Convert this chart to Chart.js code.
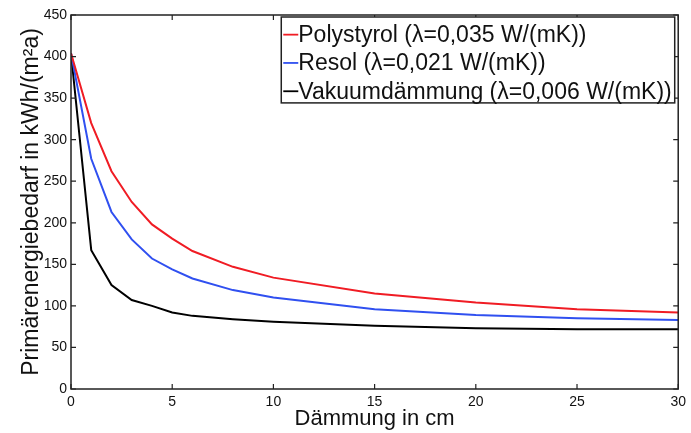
<!DOCTYPE html>
<html>
<head>
<meta charset="utf-8">
<script src="https://cdn.jsdelivr.net/npm/chart.js@4"></script>
<style>
  html, body { margin: 0; padding: 0; background: #fff; }
  #wrap { width: 691px; height: 433px; position: relative; }
</style>
</head>
<body>
<div id="wrap"><canvas id="c" width="691" height="433"></canvas></div>
<script>
// Data
const thickness = [0, 1, 2, 3, 4, 5, 6, 8, 10, 15, 20, 25, 30];
const polystyrol = [404, 320, 262, 225, 198, 181, 166, 147, 134, 115, 104, 96, 92];
const resol      = [404, 277, 213, 180, 157, 144, 133, 119, 110, 96, 89, 85, 83];
const vakuum     = [404, 167, 125, 107, 100, 92, 88, 84, 81, 76, 73, 72, 72];
const seriesLabels = [
  'Polystyrol (\u03BB=0,035 W/(mK))',
  'Resol (\u03BB=0,021 W/(mK))',
  'Vakuumd\u00E4mmung (\u03BB=0,006 W/(mK))'
];
const seriesColors = ['#f01c24', '#3050f0', '#000000'];
const xTitle = 'D\u00E4mmung in cm';
const yTitle = 'Prim\u00E4renergiebedarf in kWh/(m\u00B2a)';

const toPoints = arr => thickness.map((x, i) => ({ x: x, y: arr[i] }));
const seriesValues = [polystyrol, resol, vakuum];

const FONT = 'Liberation Sans, Arial, Helvetica, sans-serif';

const frameTicks = {
  id: 'frameTicks',
  afterDraw(chart) {
    const ctx = chart.ctx;
    const a = chart.chartArea;
    const xs = chart.scales.x, ys = chart.scales.y;
    ctx.save();
    ctx.strokeStyle = '#222';
    ctx.lineWidth = 1.5;
    ctx.strokeRect(a.left, a.top, a.right - a.left, a.bottom - a.top);
    ctx.lineWidth = 1.2;
    const L = 5;
    ctx.beginPath();
    xs.ticks.forEach(t => {
      const px = xs.getPixelForValue(t.value);
      ctx.moveTo(px, a.bottom); ctx.lineTo(px, a.bottom - L);
      ctx.moveTo(px, a.top); ctx.lineTo(px, a.top + L);
    });
    ys.ticks.forEach(t => {
      const py = ys.getPixelForValue(t.value);
      ctx.moveTo(a.left, py); ctx.lineTo(a.left + L, py);
      ctx.moveTo(a.right, py); ctx.lineTo(a.right - L, py);
    });
    ctx.stroke();

    // legend box inside the plot, top-right
    const fs = 23;
    ctx.font = fs + 'px ' + FONT;
    const ds = chart.data.datasets;
    let maxW = 0;
    ds.forEach(d => { maxW = Math.max(maxW, ctx.measureText(d.label).width); });
    const sample = 15, padL = 2, padR = 3, rowH = 28.3;
    const boxRight = a.right - 3.5;
    const boxW = padL + sample + maxW + padR;
    const boxLeft = boxRight - boxW;
    const boxTop = a.top + 2;
    const boxH = rowH * ds.length + 1;
    ctx.fillStyle = '#fff';
    ctx.fillRect(boxLeft, boxTop, boxW, boxH);
    ctx.strokeStyle = '#222';
    ctx.lineWidth = 1.5;
    ctx.strokeRect(boxLeft, boxTop, boxW, boxH);
    ctx.textBaseline = 'middle';
    ctx.textAlign = 'left';
    ds.forEach((d, i) => {
      const cy = boxTop + rowH * (i + 0.5) + 3.5;
      ctx.strokeStyle = d.borderColor;
      ctx.lineWidth = 1.8;
      ctx.beginPath();
      ctx.moveTo(boxLeft + padL, cy);
      ctx.lineTo(boxLeft + padL + sample, cy);
      ctx.stroke();
      ctx.fillStyle = '#111';
      ctx.fillText(d.label, boxLeft + padL + sample, cy + 1);
    });
    ctx.restore();
  }
};

new Chart(document.getElementById('c'), {
  type: 'line',
  data: {
    datasets: seriesValues.map((vals, i) => ({
      label: seriesLabels[i],
      data: toPoints(vals),
      borderColor: seriesColors[i],
      backgroundColor: seriesColors[i],
      borderWidth: 2,
      pointRadius: 0,
      tension: 0,
      fill: false
    }))
  },
  options: {
    responsive: false,
    animation: false,
    devicePixelRatio: 1,
    layout: { padding: { left: 0, right: 10, top: 15, bottom: 0 } },
    plugins: { legend: { display: false }, tooltip: { enabled: false } },
    scales: {
      x: {
        type: 'linear',
        min: 0, max: 30,
        grid: { display: false, drawTicks: false },
        border: { display: false },
        ticks: { stepSize: 5, color: '#111', font: { family: FONT, size: 14 }, padding: 5, maxRotation: 0 },
        title: { display: true, text: xTitle, color: '#111', font: { family: FONT, size: 22 }, padding: { top: 0, bottom: 1 } },
        afterFit(s) { s.height = 44; }
      },
      y: {
        min: 0, max: 450,
        grid: { display: false, drawTicks: false },
        border: { display: false },
        ticks: { stepSize: 50, color: '#111', font: { family: FONT, size: 14 }, padding: 4 },
        title: { display: true, text: yTitle, color: '#111', font: { family: FONT, size: 23 }, padding: { top: 18, bottom: 0 } },
        afterFit(s) { s.width = 71; }
      }
    }
  },
  plugins: [frameTicks]
});
</script>
</body>
</html>
